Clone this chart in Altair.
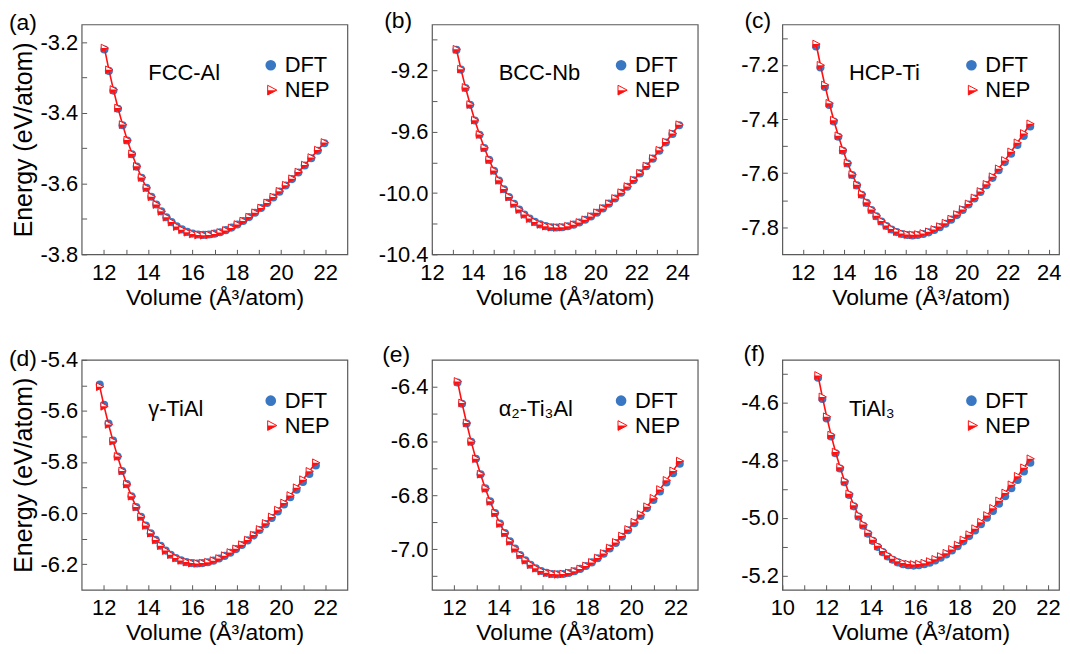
import altair as alt
import pandas as pd

BLUE = "#3a77c2"
RED = "#ff1010"
FRAME = "#5a5a5a"
FONT = "Liberation Sans"

# ---------------- data ----------------
V_A = [12.029, 12.230, 12.434, 12.640, 12.848, 13.059, 13.272, 13.487, 13.705, 13.925, 14.147, 14.371, 14.598, 14.827, 15.059, 15.293, 15.530, 15.769, 16.010, 16.254, 16.500, 16.749, 17.000, 17.254, 17.510, 17.769, 18.030, 18.294, 18.560, 18.829, 19.101, 19.375, 19.652, 19.931, 20.213, 20.498, 20.785, 21.075, 21.368, 21.663, 21.962]
DFT_A = [-3.2208, -3.2813, -3.3371, -3.3883, -3.4352, -3.4780, -3.5168, -3.5520, -3.5837, -3.6120, -3.6371, -3.6592, -3.6785, -3.6950, -3.7089, -3.7204, -3.7295, -3.7365, -3.7413, -3.7441, -3.7450, -3.7441, -3.7415, -3.7373, -3.7316, -3.7244, -3.7158, -3.7059, -3.6947, -3.6824, -3.6690, -3.6545, -3.6391, -3.6227, -3.6054, -3.5873, -3.5684, -3.5487, -3.5283, -3.5073, -3.4857]
NEP_A = [-3.2168, -3.2783, -3.3341, -3.3863, -3.4332, -3.4770, -3.5158, -3.5510, -3.5827, -3.6120, -3.6371, -3.6592, -3.6785, -3.6950, -3.7089, -3.7214, -3.7305, -3.7375, -3.7423, -3.7451, -3.7460, -3.7451, -3.7425, -3.7383, -3.7326, -3.7254, -3.7158, -3.7059, -3.6947, -3.6824, -3.6690, -3.6545, -3.6381, -3.6217, -3.6044, -3.5863, -3.5674, -3.5477, -3.5263, -3.5053, -3.4837]

V_B = [13.195, 13.416, 13.640, 13.866, 14.094, 14.325, 14.559, 14.795, 15.034, 15.275, 15.518, 15.765, 16.014, 16.265, 16.519, 16.776, 17.036, 17.298, 17.562, 17.830, 18.100, 18.373, 18.648, 18.927, 19.208, 19.492, 19.778, 20.068, 20.360, 20.655, 20.953, 21.254, 21.557, 21.864, 22.173, 22.486, 22.801, 23.119, 23.440, 23.764, 24.091]
DFT_B = [-9.0661, -9.1947, -9.3142, -9.4247, -9.5266, -9.6202, -9.7059, -9.7839, -9.8546, -9.9183, -9.9752, -10.0255, -10.0696, -10.1077, -10.1400, -10.1668, -10.1883, -10.2046, -10.2161, -10.2228, -10.2250, -10.2229, -10.2166, -10.2063, -10.1921, -10.1743, -10.1530, -10.1283, -10.1003, -10.0693, -10.0352, -9.9984, -9.9588, -9.9166, -9.8719, -9.8248, -9.7755, -9.7240, -9.6703, -9.6147, -9.5572]
NEP_B = [-9.0621, -9.1917, -9.3112, -9.4227, -9.5246, -9.6182, -9.7049, -9.7829, -9.8536, -9.9173, -9.9742, -10.0255, -10.0696, -10.1077, -10.1400, -10.1668, -10.1883, -10.2046, -10.2161, -10.2228, -10.2250, -10.2229, -10.2166, -10.2063, -10.1921, -10.1743, -10.1530, -10.1283, -10.1003, -10.0693, -10.0352, -9.9974, -9.9578, -9.9156, -9.8709, -9.8238, -9.7745, -9.7210, -9.6673, -9.6117, -9.5542]

V_C = [12.648, 12.860, 13.074, 13.291, 13.510, 13.732, 13.956, 14.182, 14.411, 14.642, 14.875, 15.112, 15.350, 15.591, 15.835, 16.081, 16.330, 16.581, 16.835, 17.091, 17.350, 17.612, 17.876, 18.143, 18.412, 18.684, 18.959, 19.236, 19.516, 19.799, 20.085, 20.373, 20.664, 20.958, 21.254, 21.554, 21.856, 22.161, 22.469, 22.779, 23.093]
DFT_C = [-7.1314, -7.2090, -7.2810, -7.3476, -7.4090, -7.4655, -7.5171, -7.5641, -7.6068, -7.6451, -7.6794, -7.7098, -7.7363, -7.7593, -7.7788, -7.7949, -7.8079, -7.8177, -7.8246, -7.8287, -7.8300, -7.8287, -7.8249, -7.8187, -7.8102, -7.7995, -7.7866, -7.7717, -7.7549, -7.7361, -7.7156, -7.6934, -7.6695, -7.6441, -7.6172, -7.5888, -7.5590, -7.5280, -7.4957, -7.4621, -7.4275]
NEP_C = [-7.1224, -7.2010, -7.2740, -7.3416, -7.4040, -7.4615, -7.5141, -7.5621, -7.6048, -7.6431, -7.6774, -7.7078, -7.7343, -7.7573, -7.7768, -7.7929, -7.8059, -7.8157, -7.8226, -7.8267, -7.8280, -7.8267, -7.8229, -7.8167, -7.8082, -7.7975, -7.7846, -7.7697, -7.7529, -7.7341, -7.7136, -7.6914, -7.6675, -7.6411, -7.6132, -7.5838, -7.5530, -7.5210, -7.4877, -7.4531, -7.4175]

V_D = [11.817, 12.015, 12.215, 12.418, 12.623, 12.829, 13.039, 13.250, 13.464, 13.680, 13.898, 14.119, 14.342, 14.567, 14.794, 15.024, 15.257, 15.491, 15.729, 15.968, 16.210, 16.454, 16.701, 16.950, 17.202, 17.456, 17.713, 17.972, 18.234, 18.498, 18.765, 19.034, 19.306, 19.581, 19.858, 20.138, 20.420, 20.705, 20.992, 21.283, 21.576]
DFT_D = [-5.4971, -5.5759, -5.6489, -5.7162, -5.7781, -5.8348, -5.8866, -5.9337, -5.9763, -6.0145, -6.0485, -6.0786, -6.1049, -6.1276, -6.1468, -6.1627, -6.1754, -6.1850, -6.1918, -6.1957, -6.1970, -6.1957, -6.1921, -6.1861, -6.1778, -6.1675, -6.1551, -6.1408, -6.1246, -6.1067, -6.0871, -6.0658, -6.0431, -6.0189, -5.9933, -5.9663, -5.9381, -5.9087, -5.8782, -5.8465, -5.8139]
NEP_D = [-5.5051, -5.5819, -5.6529, -5.7182, -5.7781, -5.8348, -5.8866, -5.9337, -5.9763, -6.0145, -6.0485, -6.0786, -6.1049, -6.1276, -6.1468, -6.1627, -6.1754, -6.1850, -6.1918, -6.1957, -6.1970, -6.1957, -6.1921, -6.1861, -6.1778, -6.1665, -6.1541, -6.1398, -6.1236, -6.1057, -6.0861, -6.0638, -6.0401, -6.0149, -5.9883, -5.9603, -5.9311, -5.9007, -5.8692, -5.8365, -5.8029]

V_E = [12.152, 12.356, 12.562, 12.770, 12.981, 13.194, 13.409, 13.626, 13.846, 14.068, 14.292, 14.519, 14.749, 14.980, 15.214, 15.451, 15.690, 15.931, 16.175, 16.421, 16.670, 16.921, 17.175, 17.431, 17.690, 17.952, 18.216, 18.482, 18.751, 19.023, 19.298, 19.575, 19.854, 20.137, 20.422, 20.709, 20.999, 21.292, 21.588, 21.887, 22.188]
DFT_E = [-6.3838, -6.4625, -6.5356, -6.6032, -6.6656, -6.7229, -6.7753, -6.8231, -6.8663, -6.9053, -6.9401, -6.9709, -6.9979, -7.0212, -7.0410, -7.0574, -7.0705, -7.0805, -7.0875, -7.0917, -7.0930, -7.0917, -7.0878, -7.0815, -7.0729, -7.0620, -7.0489, -7.0338, -7.0167, -6.9977, -6.9769, -6.9543, -6.9301, -6.9043, -6.8769, -6.8481, -6.8179, -6.7864, -6.7535, -6.7195, -6.6843]
NEP_E = [-6.3798, -6.4595, -6.5336, -6.6022, -6.6656, -6.7229, -6.7753, -6.8231, -6.8663, -6.9053, -6.9401, -6.9709, -6.9979, -7.0212, -7.0410, -7.0574, -7.0705, -7.0805, -7.0875, -7.0917, -7.0930, -7.0917, -7.0878, -7.0815, -7.0729, -7.0620, -7.0489, -7.0328, -7.0157, -6.9957, -6.9749, -6.9513, -6.9271, -6.9003, -6.8719, -6.8431, -6.8119, -6.7794, -6.7455, -6.7105, -6.6743]

V_F = [11.613, 11.808, 12.004, 12.203, 12.404, 12.608, 12.813, 13.021, 13.231, 13.443, 13.658, 13.875, 14.094, 14.315, 14.539, 14.765, 14.993, 15.224, 15.457, 15.692, 15.930, 16.170, 16.413, 16.658, 16.905, 17.155, 17.407, 17.662, 17.919, 18.179, 18.441, 18.706, 18.973, 19.243, 19.515, 19.790, 20.067, 20.347, 20.630, 20.915, 21.203]
DFT_F = [-4.5124, -4.5860, -4.6541, -4.7169, -4.7748, -4.8278, -4.8761, -4.9201, -4.9598, -4.9955, -5.0273, -5.0554, -5.0800, -5.1012, -5.1191, -5.1340, -5.1458, -5.1548, -5.1611, -5.1648, -5.1660, -5.1648, -5.1614, -5.1558, -5.1481, -5.1384, -5.1269, -5.1135, -5.0984, -5.0816, -5.0633, -5.0435, -5.0222, -4.9996, -4.9757, -4.9506, -4.9242, -4.8968, -4.8682, -4.8387, -4.8082]
NEP_F = [-4.5044, -4.5790, -4.6481, -4.7119, -4.7708, -4.8238, -4.8721, -4.9161, -4.9558, -4.9915, -5.0233, -5.0514, -5.0760, -5.0972, -5.1151, -5.1300, -5.1418, -5.1508, -5.1571, -5.1608, -5.1620, -5.1608, -5.1574, -5.1518, -5.1441, -5.1344, -5.1229, -5.1095, -5.0944, -5.0766, -5.0583, -5.0375, -5.0152, -4.9916, -4.9667, -4.9406, -4.9132, -4.8848, -4.8552, -4.8257, -4.7942]

# tick values
XT_A = [12, 13, 14, 15, 16, 17, 18, 19, 20, 21, 22]
XT_B = [12, 13, 14, 15, 16, 17, 18, 19, 20, 21, 22, 23, 24]
XT_C = [12, 13, 14, 15, 16, 17, 18, 19, 20, 21, 22, 23, 24]
XT_D = [12, 13, 14, 15, 16, 17, 18, 19, 20, 21, 22]
XT_E = [12, 13, 14, 15, 16, 17, 18, 19, 20, 21, 22]
XT_F = [10, 11, 12, 13, 14, 15, 16, 17, 18, 19, 20, 21, 22]
YT_A = [-3.8, -3.7, -3.6, -3.5, -3.4, -3.3, -3.2]
YT_B = [-10.4, -10.2, -10.0, -9.8, -9.6, -9.4, -9.2, -9.0]
YT_C = [-7.8, -7.7, -7.6, -7.5, -7.4, -7.3, -7.2, -7.1]
YT_D = [-6.2, -6.1, -6.0, -5.9, -5.8, -5.7, -5.6, -5.5, -5.4]
YT_E = [-7.1, -7.0, -6.9, -6.8, -6.7, -6.6, -6.5, -6.4]
YT_F = [-5.2, -5.1, -5.0, -4.9, -4.8, -4.7, -4.6, -4.5]

NAMES = ["FCC-Al", "BCC-Nb", "HCP-Ti", "γ-TiAl", "α₂-Ti₃Al", "TiAl₃"]
TAGS = ["(a)", "(b)", "(c)", "(d)", "(e)", "(f)"]

PANELS = [
    dict(V=V_A, dft=DFT_A, nep=NEP_A, xdom=[11, 23], ydom=[-3.8, -3.15], xt=XT_A, yt=YT_A, ymod=2, w=267, ytitle=True, lx=-73, ly=-1),
    dict(V=V_B, dft=DFT_B, nep=NEP_B, xdom=[12, 25], ydom=[-10.4, -8.9], xt=XT_B, yt=YT_B, ymod=4, w=267, ytitle=False, lx=-48, ly=-3),
    dict(V=V_C, dft=DFT_C, nep=NEP_C, xdom=[11, 24.5], ydom=[-7.9, -7.05], xt=XT_C, yt=YT_C, ymod=2, w=278, ytitle=False, lx=-38, ly=-3),
    dict(V=V_D, dft=DFT_D, nep=NEP_D, xdom=[11, 23], ydom=[-6.3, -5.4], xt=XT_D, yt=YT_D, ymod=2, w=267, ytitle=True, lx=-73, ly=-1),
    dict(V=V_E, dft=DFT_E, nep=NEP_E, xdom=[11, 23], ydom=[-7.15, -6.3], xt=XT_E, yt=YT_E, ymod=2, w=267, ytitle=False, lx=-50, ly=-5),
    dict(V=V_F, dft=DFT_F, nep=NEP_F, xdom=[10, 22.5], ydom=[-5.25, -4.45], xt=XT_F, yt=YT_F, ymod=2, w=278, ytitle=False, lx=-39, ly=-6),
]

TRI = "M -0.8 -0.95 L 1 0 L -0.8 0.95 Z"
TRI_HALF = "M -0.8 0 L 1 0 L -0.8 0.95 Z"
H = 231


def make_panel(i, p):
    df = pd.DataFrame({"V": p["V"], "DFT": p["dft"], "NEP": p["nep"]})
    xax = alt.Axis(values=p["xt"], format="d",
                   labelExpr="datum.value % 2 == 0 ? datum.label : ''",
                   labelPadding=8, titlePadding=3,
                   title="Volume (Å³/atom)", titleFontSize=23)
    yax = alt.Axis(values=p["yt"], format=".1f",
                   labelExpr="round(datum.value*10) % " + str(p["ymod"]) +
                             " == 0 ? replace(datum.label, '\u2212', '-') : ''",
                   labelPadding=4, titlePadding=3,
                   title=("Energy (eV/atom)" if p["ytitle"] else None), titleFontSize=25)
    xs = alt.Scale(domain=p["xdom"], nice=False, zero=False)
    ys = alt.Scale(domain=p["ydom"], nice=False, zero=False)
    X = alt.X("V:Q", scale=xs, axis=xax)

    def Y(f):
        return alt.Y(f + ":Q", scale=ys, axis=yax)

    base = alt.Chart(df)
    dft = base.mark_point(shape="circle", filled=True, size=66, color=BLUE, opacity=1).encode(x=X, y=Y("DFT"))
    line = base.mark_line(color=RED, strokeWidth=1.6).encode(x=X, y=Y("NEP"))
    tri = base.mark_point(shape=TRI, filled=True, fill="white", stroke=RED, strokeWidth=1,
                          size=66, opacity=1).encode(x=X, y=Y("NEP"))
    half = base.mark_point(shape=TRI_HALF, filled=True, color=RED, size=66, opacity=1).encode(x=X, y=Y("NEP"))

    one = alt.Chart(pd.DataFrame({"k": [0]}))
    leg_c = one.mark_point(shape="circle", filled=True, size=115, color=BLUE, opacity=1).encode(
        x=alt.value(190), y=alt.value(41))
    leg_t = one.mark_point(shape=TRI, filled=True, fill="white", stroke=RED, strokeWidth=1,
                           size=105, opacity=1).encode(x=alt.value(191), y=alt.value(66))
    leg_h = one.mark_point(shape=TRI_HALF, filled=True, color=RED, size=105, opacity=1).encode(
        x=alt.value(191), y=alt.value(66))
    txt_kw = dict(font=FONT, fontSize=22, align="left", baseline="middle", color="black")
    t1 = one.mark_text(text="DFT", **txt_kw).encode(x=alt.value(204), y=alt.value(41))
    t2 = one.mark_text(text="NEP", **txt_kw).encode(x=alt.value(204), y=alt.value(66))
    nm = one.mark_text(text=NAMES[i], **txt_kw).encode(x=alt.value(67), y=alt.value(49))
    tg = one.mark_text(text=TAGS[i], font=FONT, fontSize=23, align="left", baseline="middle",
                       color="black").encode(x=alt.value(p["lx"]), y=alt.value(p["ly"]))
    return alt.layer(dft, line, tri, half, leg_c, leg_t, leg_h, t1, t2, nm, tg).properties(
        width=p["w"], height=H)


charts = [make_panel(i, p) for i, p in enumerate(PANELS)]

chart = alt.concat(*charts, columns=3, spacing={"row": 106, "column": 85},
                   bounds="flush", align="each").properties(
    padding={"left": 0, "top": 0, "right": 0, "bottom": 0}
).configure_view(stroke=FRAME, strokeWidth=1.2).configure_axis(
    domain=False, grid=False, ticks=True, tickColor=FRAME, tickSize=5, tickWidth=1,
    offset=-5, labelFont=FONT, labelFontSize=22, labelColor="black",
    labelFlush=False, labelOverlap=False, titleFont=FONT, titleColor="black",
    titleFontWeight="normal"
)

chart.save("out.html", embed_options={"renderer": "svg", "actions": False})
